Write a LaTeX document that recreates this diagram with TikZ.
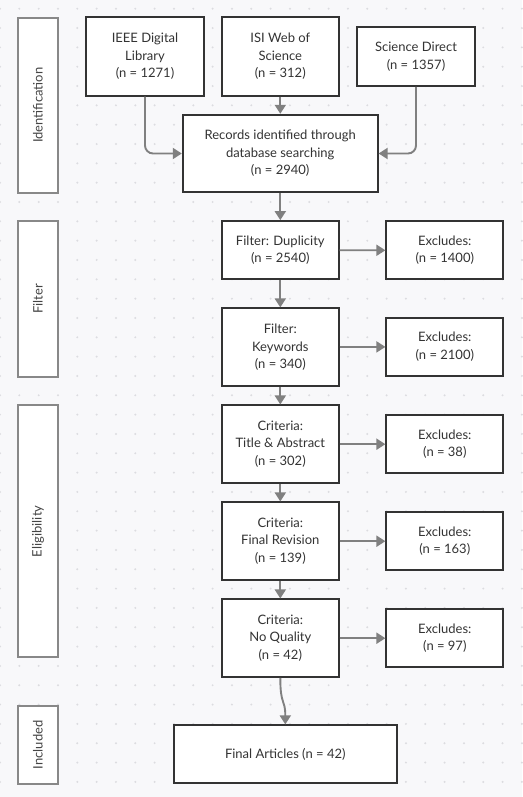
\documentclass[tikz,border=0pt]{standalone}
\usepackage{fontspec}
\setmainfont{Lato}
\usetikzlibrary{arrows.meta}
\definecolor{bg}{HTML}{F8F8FA}
\definecolor{dotc}{HTML}{DCDCE0}
\definecolor{boxc}{HTML}{333333}
\definecolor{labc}{HTML}{888888}
\definecolor{txt}{HTML}{333333}
\definecolor{ltxt}{HTML}{444444}
\definecolor{arrc}{HTML}{808080}
\tikzset{
  stepbox/.style={draw=boxc, line width=1.8pt, fill=white, align=center, inner sep=0pt,
    text=txt, font=\fontsize{13pt}{17.5pt}\selectfont},
  lanebox/.style={draw=labc, line width=1.8pt, fill=white, inner sep=0pt, rotate=90,
    text=ltxt, font=\fontsize{13pt}{15pt}\selectfont, minimum height=39.4pt},
  arr/.style={draw=arrc, line width=1.9pt, -{Triangle[length=9pt,width=11pt]}}
}
\begin{document}
\begin{tikzpicture}[x=1pt,y=-1pt]
\fill[bg] (0,0) rectangle (522,797);
\useasboundingbox (0,0) rectangle (522,797);
\foreach \i in {0,...,27}{
  \foreach \j in {0,...,40}{
    \fill[dotc] (19.33*\i, 8.7+19.33*\j) circle (1.1pt);
  }
}
% lane labels
\node[lanebox, minimum width=175pt] (lid) at (38,105.2) {Identification};
\node[lanebox, minimum width=155.7pt] (lfi) at (38,298.9) {Filter};
\node[lanebox, minimum width=252pt] (lel) at (38,531.3) {Eligibility};
\node[lanebox, minimum width=78.3pt] (lin) at (38,744.8) {Included};
% sources
\node[stepbox, minimum width=118pt, minimum height=78.4pt] (ieee) at (145,56.5) {IEEE Digital\\Library\\(n = 1271)};
\node[stepbox, minimum width=116.7pt, minimum height=78.4pt] (isi) at (280.3,56.5) {ISI Web of\\Science\\(n = 312)};
\node[stepbox, minimum width=117.4pt, minimum height=58.7pt] (sd) at (416,56.6) {Science Direct\\(n = 1357)};
\node[stepbox, minimum width=195pt, minimum height=77.6pt] (rec) at (280.2,153.5) {Records identified through\\database searching\\(n = 2940)};
% main column
\node[stepbox, minimum width=116.7pt, minimum height=58.3pt] (fd) at (280.3,250.2) {Filter: Duplicity\\(n = 2540)};
\node[stepbox, minimum width=116.7pt, minimum height=78pt] (fk) at (280.3,347.3) {Filter:\\Keywords\\(n = 340)};
\node[stepbox, minimum width=116.7pt, minimum height=77.7pt] (ct) at (280.3,444.2) {Criteria:\\Title \& Abstract\\(n = 302)};
\node[stepbox, minimum width=116.7pt, minimum height=77.7pt] (cf) at (280.3,541.2) {Criteria:\\Final Revision\\(n = 139)};
\node[stepbox, minimum width=116.7pt, minimum height=77.7pt] (cq) at (280.3,638.2) {Criteria:\\No Quality\\(n = 42)};
\node[stepbox, minimum width=222.7pt, minimum height=58pt] (fin) at (285.3,754.3) {Final Articles (n = 42)};
% excludes
\node[stepbox, minimum width=117pt, minimum height=58pt] (e1) at (444.8,250.3) {Excludes:\\(n = 1400)};
\node[stepbox, minimum width=117pt, minimum height=58pt] (e2) at (444.8,346.9) {Excludes:\\(n = 2100)};
\node[stepbox, minimum width=117pt, minimum height=58pt] (e3) at (444.8,444.2) {Excludes:\\(n = 38)};
\node[stepbox, minimum width=117pt, minimum height=58pt] (e4) at (444.8,541.2) {Excludes:\\(n = 163)};
\node[stepbox, minimum width=117pt, minimum height=58pt] (e5) at (444.8,638.2) {Excludes:\\(n = 97)};
% connectors
\draw[arr, rounded corners=8pt] (ieee.south) |- (rec.west);
\draw[arr] (isi.south) -- (isi.south |- rec.north);
\draw[arr, rounded corners=8pt] (sd.south) |- (rec.east);
\draw[arr] (rec.south -| fd.north) -- (fd.north);
\draw[arr] (fd.south) -- (fk.north);
\draw[arr] (fk.south) -- (ct.north);
\draw[arr] (ct.south) -- (cf.north);
\draw[arr] (cf.south) -- (cq.north);
\draw[arr] (cq.south) .. controls +(0,28) and +(0,-26) .. (fin.north);
\draw[arr] (fd.east) -- (e1.west);
\draw[arr] (fk.east |- e2.west) -- (e2.west);
\draw[arr] (ct.east) -- (e3.west);
\draw[arr] (cf.east) -- (e4.west);
\draw[arr] (cq.east) -- (e5.west);
\end{tikzpicture}
\end{document}
